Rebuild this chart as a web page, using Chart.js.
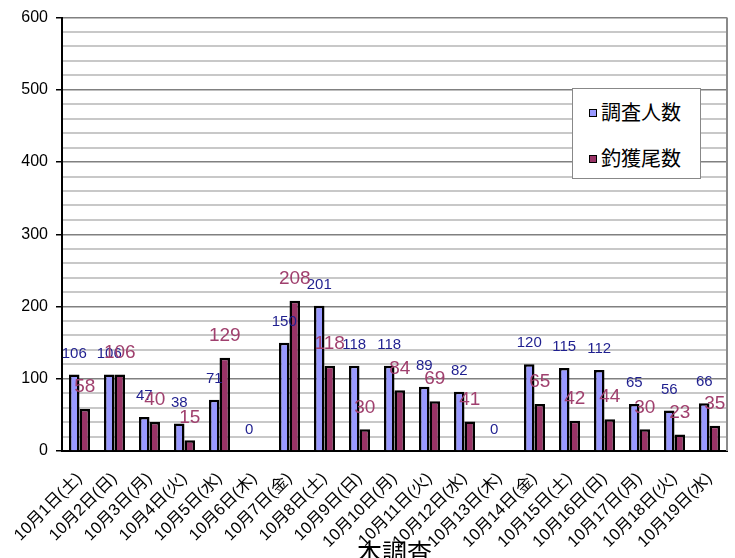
<!DOCTYPE html>
<html>
<head>
<meta charset="utf-8">
<script src="https://cdn.jsdelivr.net/npm/chart.js@4.4.0/dist/chart.umd.min.js"></script>
<style>
  html, body { margin: 0; padding: 0; overflow: hidden; background: #fff; }
  #wrap { position: relative; width: 735px; height: 575px; }
  #legendBox {
    position: absolute; left: 572px; top: 88px; width: 129px; height: 91px;
    border: 1px solid #888; background: #fff; box-sizing: border-box;
    font-family: "Noto Sans CJK JP", sans-serif; font-size: 20px; color: #000;
  }
  .item { position: absolute; left: 16px; height: 24px; line-height: 24px; }
  .sw { display: inline-block; width: 6px; height: 6px; border: 1px solid #000; vertical-align: middle; margin-right: 4px; position: relative; top: -2px; }
</style>
</head>
<body>
<div id="wrap">
  <canvas id="chart" width="735" height="575"></canvas>
  <div id="legendBox">
    <div class="item" style="top:11px"><span class="sw" style="background:#9999ff"></span>調査人数</div>
    <div class="item" style="top:57px"><span class="sw" style="background:#993366"></span>釣獲尾数</div>
  </div>
</div>
<script>
const labels = ['10月1日(土)', '10月2日(日)', '10月3日(月)', '10月4日(火)', '10月5日(水)', '10月6日(木)',
    '10月7日(金)', '10月8日(土)', '10月9日(日)', '10月10日(月)', '10月11日(火)', '10月12日(水)',
    '10月13日(木)', '10月14日(金)', '10月15日(土)', '10月16日(日)', '10月17日(月)', '10月18日(火)', '10月19日(水)'];
const anglers = [106, 106, 47, 38, 71, 0, 150, 201, 118, 118, 89, 82, 0, 120, 115, 112, 65, 56, 66];
const catches = [58, 106, 40, 15, 129, null, 208, 118, 30, 84, 69, 41, null, 65, 42, 44, 30, 23, 35];

const numFont = '"Liberation Sans", "Noto Sans CJK JP", sans-serif';

// value labels above bars + right border of plot area
const valueLabels = {
    id: 'valueLabels',
    afterDatasetsDraw(chart) {
        const ctx = chart.ctx;
        const area = chart.chartArea;
        ctx.save();
        ctx.strokeStyle = '#8a8a8a';
        ctx.lineWidth = 2;
        ctx.beginPath();
        ctx.moveTo(area.right, area.top);
        ctx.lineTo(area.right, area.bottom);
        ctx.stroke();

        ctx.textAlign = 'center';
        ctx.textBaseline = 'middle';
        const styles = [
            { color: '#1f1f8f', font: '15px ' + numFont, off: 21 },
            { color: '#a0406e', font: '19px ' + numFont, off: 22 }
        ];
        [0, 1].forEach(di => {
            const meta = chart.getDatasetMeta(di);
            const data = chart.data.datasets[di].data;
            ctx.fillStyle = styles[di].color;
            ctx.font = styles[di].font;
            meta.data.forEach((bar, i) => {
                if (data[i] === null) return;
                ctx.fillText(String(data[i]), bar.x, bar.y - styles[di].off);
            });
        });
        ctx.restore();
    }
};

new Chart(document.getElementById('chart'), {
    type: 'bar',
    data: {
        labels: labels,
        datasets: [
            {
                label: '調査人数',
                data: anglers,
                backgroundColor: '#9999ff',
                borderColor: '#000',
                borderWidth: 2.5,
                categoryPercentage: 0.6,
                barPercentage: 1
            },
            {
                label: '釣獲尾数',
                data: catches,
                backgroundColor: '#993366',
                borderColor: '#000',
                borderWidth: 2.5,
                categoryPercentage: 0.6,
                barPercentage: 1
            }
        ]
    },
    options: {
        responsive: false,
        animation: false,
        layout: { padding: { top: 17, right: 8, left: 0, bottom: 0 } },
        plugins: {
            legend: { display: false },
            tooltip: { enabled: false }
        },
        scales: {
            x: {
                grid: { display: false },
                border: { color: '#000', width: 2 },
                ticks: {
                    autoSkip: false,
                    minRotation: 45,
                    maxRotation: 45,
                    padding: 10,
                    color: '#000',
                    font: { family: numFont, size: 16.5 }
                },
                title: {
                    display: true,
                    text: '本調査',
                    color: '#000',
                    font: { family: '"Noto Sans CJK JP", sans-serif', size: 25 },
                    padding: { top: 0, bottom: 8 }
                },
                afterFit(scale) { scale.height = 124; }
            },
            y: {
                min: 0,
                max: 600,
                border: { color: '#000', width: 2 },
                grid: {
                    color: c => (c.tick && c.tick.value % 100 === 0) ? '#808080' : '#c8c8c8',
                    lineWidth: c => (c.tick && c.tick.value % 100 === 0) ? 1.5 : 2,
                    tickColor: c => (c.tick && c.tick.value % 100 === 0) ? '#000' : 'rgba(0,0,0,0)',
                    tickLength: 6
                },
                ticks: {
                    stepSize: 20,
                    autoSkip: false,
                    padding: 8,
                    color: '#000',
                    font: { family: numFont, size: 16 },
                    callback: v => (v % 100 === 0 ? v : '')
                },
                afterFit(scale) { scale.width = 62; }
            }
        }
    },
    plugins: [valueLabels]
});
</script>
</body>
</html>
